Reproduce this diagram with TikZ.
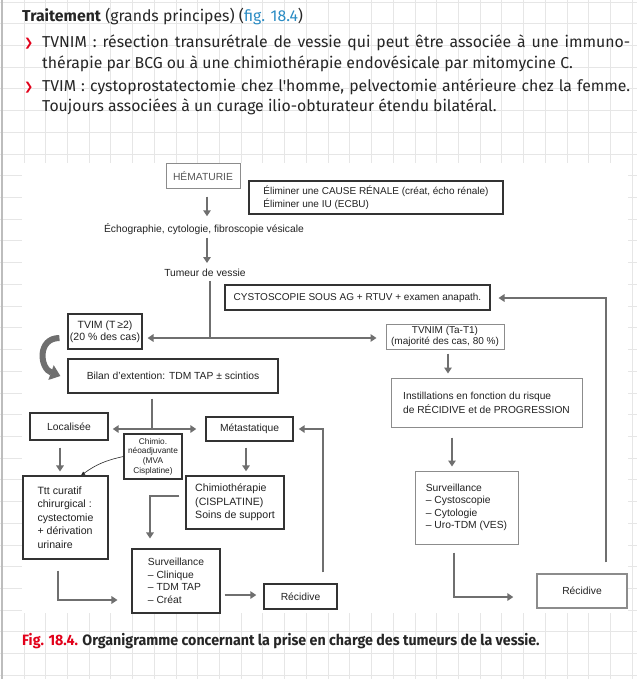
\documentclass[tikz,border=0pt]{standalone}
\usepackage{fontspec}
\usepackage{graphicx}
\setmainfont{Liberation Sans}
\newfontfamily\bodyfont{Fira Sans}
\newfontfamily\chevfont{DejaVu Sans}
\usetikzlibrary{arrows.meta}

\definecolor{gridgray}{HTML}{E6E6E6}
\definecolor{edgegray}{HTML}{BDBDBD}
\definecolor{bodytext}{HTML}{262626}
\definecolor{bulred}{HTML}{E2001A}
\definecolor{figblue}{HTML}{2B8CC4}
\definecolor{boxline}{HTML}{333333}
\definecolor{lightline}{HTML}{8C8C8C}
\definecolor{arrowgray}{HTML}{6F6F6F}
\definecolor{diagtext}{HTML}{222222}
\definecolor{hematext}{HTML}{555555}

\newcommand{\diagfont}{\fontsize{10.3}{12.5}\selectfont}
\newcommand{\diagbig}{\fontsize{10.6}{13.4}\selectfont}
\newcommand{\diagsmall}{\fontsize{8.3}{9.7}\selectfont}
\newcommand{\topfont}{\bodyfont\fontsize{15.8}{18}\selectfont}

\tikzset{
	gridline/.style={draw=gridgray, line width=0.9pt},
	boxdark/.style={draw=boxline, line width=1.1pt, inner sep=2pt, align=center, font=\diagfont, text=diagtext},
	boxlight/.style={boxdark, draw=lightline, line width=1pt},
	plaintext/.style={inner sep=1pt, font=\diagfont, text=diagtext},
	topline/.style={anchor=base west, inner sep=0pt, font=\topfont, text=bodytext},
	grayline/.style={draw=arrowgray, line width=2.6pt},
	grayarrow/.style={grayline, -{Triangle[width=7.5pt,length=6pt]}},
	grayboth/.style={grayline, {Triangle[width=7.5pt,length=6pt]}-{Triangle[width=7.5pt,length=6pt]}},
	bigarrow/.style={draw=arrowgray, line width=6pt, -{Triangle[width=15pt,length=10pt]}},
	thinarrow/.style={draw=black!85, line width=0.6pt, -{Triangle[width=3.5pt,length=4pt]}},
}

\begin{document}
\begin{tikzpicture}[x=1pt,y=-1pt]
	\useasboundingbox (0,0) rectangle (637,679);
	% squared paper
	\fill[white] (0,0) rectangle (637,679);
	\foreach \i in {1,...,29}
		\draw[gridline] ({2.3+21.72*\i},0) -- ({2.3+21.72*\i},679);
	\foreach \j in {0,...,31}
		\draw[gridline] (0,{2+21.72*\j}) -- (637,{2+21.72*\j});
	\draw[edgegray, line width=2pt] (2.3,0) -- (2.3,679);
	\fill[white] (22,163) rectangle (628,613);

	% text above the figure
	\node[topline] (title) at (22,22) {\textbf{Traitement} (grands principes) ({\color{figblue}fig. 18.4})};
	\node[topline, text=bulred, font=\chevfont\bfseries\fontsize{11}{12}\selectfont] (bullet1) at (24,47) {❯};
	\node[topline, text=bulred, font=\chevfont\bfseries\fontsize{11}{12}\selectfont] (bullet2) at (24,91) {❯};
	\node[topline] (line1) at (42,48) {\makebox[588pt][s]{TVNIM : résection transurétrale de vessie qui peut être associée à une immuno-}};
	\node[topline] (line2) at (42,69) {thérapie par BCG ou à une chimiothérapie endovésicale par mitomycine C.};
	\node[topline] (line3) at (42,92) {\makebox[588pt][s]{TVIM : cystoprostatectomie chez l'homme, pelvectomie antérieure chez la femme.}};
	\node[topline] (line4) at (42,112) {Toujours associées à un curage ilio-obturateur étendu bilatéral.};

	% flowchart
	\node[boxlight, minimum width=74pt, minimum height=24pt, text=hematext] (hema) at (203,176) {HÉMATURIE};
	\node[boxdark, align=left, minimum width=254pt, minimum height=33pt, font=\fontsize{10}{13.5}\selectfont] (elim) at (376,197.5) {Éliminer une CAUSE RÉNALE (créat, écho rénale)\\Éliminer une IU (ECBU)};
	\node[plaintext] (echo) at (204,229) {Échographie, cytologie, fibroscopie vésicale};
	\node[plaintext] (tumeur) at (205,273) {Tumeur de vessie};
	\node[boxdark, minimum width=265pt, minimum height=25pt, font=\fontsize{10}{12}\selectfont] (cysto) at (357.5,297.5) {CYSTOSCOPIE SOUS AG + RTUV + examen anapath.};
	\node[boxlight, minimum width=118pt, minimum height=25pt, font=\fontsize{10}{11.5}\selectfont] (tvnim) at (445,336.5) {TVNIM (Ta-T1)\\(majorité des cas, 80~\%)};
	\node[boxlight, align=left, minimum width=191pt, minimum height=49pt, font=\fontsize{10.2}{14}\selectfont] (instil) at (486.5,402.5) {Instillations en fonction du risque\\de RÉCIDIVE et de PROGRESSION};
	\node[boxlight, align=left, minimum width=103pt, minimum height=73pt] (survR) at (466.5,507.5) {Surveillance\\– Cystoscopie\\– Cytologie\\– Uro-TDM (VES)};
	\node[boxlight, line width=1.4pt, minimum width=90pt, minimum height=34pt] (recR) at (582,591) {Récidive};

	\node[boxdark, minimum width=74pt, minimum height=35pt, font=\fontsize{10.5}{12}\selectfont] (tvim) at (105,331.5) {TVIM (T\,≥2)\\(20~\% des cas)};
	\node[boxdark, minimum width=210pt, minimum height=34pt] (bilan) at (173,376) {Bilan d'extention: TDM TAP ± scintios};
	\node[boxdark, line width=1.4pt, minimum width=78pt, minimum height=27pt] (loc) at (69,426.5) {Localisée};
	\node[boxdark, line width=1.4pt, minimum width=87pt, minimum height=24pt] (meta) at (249.5,429) {Métastatique};
	\node[boxdark, minimum width=58pt, minimum height=45pt, inner sep=1pt, font=\diagsmall] (chimio) at (153,456.5) {Chimio.\\néoadjuvante\\(MVA\\Cisplatine)};
	\node[boxdark, align=left, minimum width=85pt, minimum height=83pt, font=\diagbig] (ttt) at (65.5,517.5) {Ttt curatif\\chirurgical :\\cystectomie\\+ dérivation\\urinaire};
	\node[boxdark, line width=1.4pt, align=left, minimum width=98pt, minimum height=53pt, font=\diagbig] (chimth) at (235,502.5) {Chimiothérapie\\(CISPLATINE)\\Soins de support};
	\node[boxdark, align=left, minimum width=88pt, minimum height=64pt] (survL) at (176,581) {Surveillance\\– Clinique\\– TDM TAP\\– Créat};
	\node[boxdark, line width=1.4pt, minimum width=73pt, minimum height=25pt] (recL) at (300.5,596.5) {Récidive};

	% guide points for the connectors
	\coordinate (colH) at (207,0);
	\coordinate (split) at (210,338);
	\coordinate (backR) at (606,298);
	\coordinate (colT) at (448,0);
	\coordinate (colR) at (452,0);
	\coordinate (turnR) at (454,597);
	\coordinate (split2) at (152,429);
	\coordinate (colL) at (60,0);
	\coordinate (colM) at (246,0);
	\coordinate (turnM) at (150,496);
	\coordinate (turnL) at (58,600);
	\coordinate (rowS) at (0,595);
	\coordinate (turnB) at (323,429);

	\draw[grayarrow, shorten <=8pt, shorten >=6pt] (colH |- hema.south) -- (colH |- echo.north);
	\draw[grayarrow, shorten <=2pt, shorten >=5pt] (colH |- echo.south) -- (colH |- tumeur.north);
	\draw[grayline, shorten <=3pt] (tumeur.south -| split) -- (split);
	\draw[grayarrow, shorten >=5pt] (split) -- (split -| tvim.east);
	\draw[grayarrow, shorten >=9pt] (split) -- (split -| tvnim.west);
	\draw[grayarrow, shorten <=11pt, shorten >=8pt] (recR.north -| backR) -- (backR) -- (backR -| cysto.east);
	\draw[grayarrow, shorten <=4pt, shorten >=4pt] (colT |- tvnim.south) -- (colT |- instil.north);
	\draw[grayarrow, shorten <=10pt, shorten >=4pt] (colR |- instil.south) -- (colR |- survR.north);
	\draw[grayarrow, shorten <=8pt, shorten >=23pt] (turnR |- survR.south) -- (turnR) -- (turnR -| recR.west);

	\draw[bigarrow] ([xshift=-8pt,yshift=-6.5pt]tvim.west) to[out=180, in=160, looseness=1.5] ([xshift=-7pt]bilan.west);
	\draw[grayline, shorten <=5pt] (bilan.south -| split2) -- (split2);
	\draw[grayboth, shorten <=4pt, shorten >=9pt] (split2 -| loc.east) -- (split2 -| meta.west);
	\draw[grayarrow, shorten <=7pt, shorten >=4pt] (colL |- loc.south) -- (colL |- ttt.north);
	\draw[thinarrow] (chimio.west) to[bend right=12] ([xshift=15.5pt]ttt.north);
	\draw[grayarrow, shorten <=6pt, shorten >=4pt] (colM |- meta.south) -- (colM |- chimth.north);
	\draw[grayarrow, shorten <=6pt, shorten >=10pt] (turnM -| chimth.west) -- (turnM) -- (turnM |- survL.north);
	\draw[grayarrow, shorten <=11pt, shorten >=14pt] (turnL |- ttt.south) -- (turnL) -- (turnL -| survL.west);
	\draw[grayarrow, shorten <=4pt, shorten >=7pt] (rowS -| survL.east) -- (rowS -| recL.west);
	\draw[grayarrow, shorten <=11pt, shorten >=5pt] (turnB |- recL.north) -- (turnB) -- (turnB -| meta.east);

	% caption
	\node[anchor=base west, inner sep=0pt, text=bodytext, font=\bodyfont\bfseries\fontsize{15}{17}\selectfont] (caption) at (22,645) {\scalebox{0.95}[1]{\textcolor{bulred}{Fig. 18.4.} Organigramme concernant la prise en charge des tumeurs de la vessie.}};
\end{tikzpicture}
\end{document}
